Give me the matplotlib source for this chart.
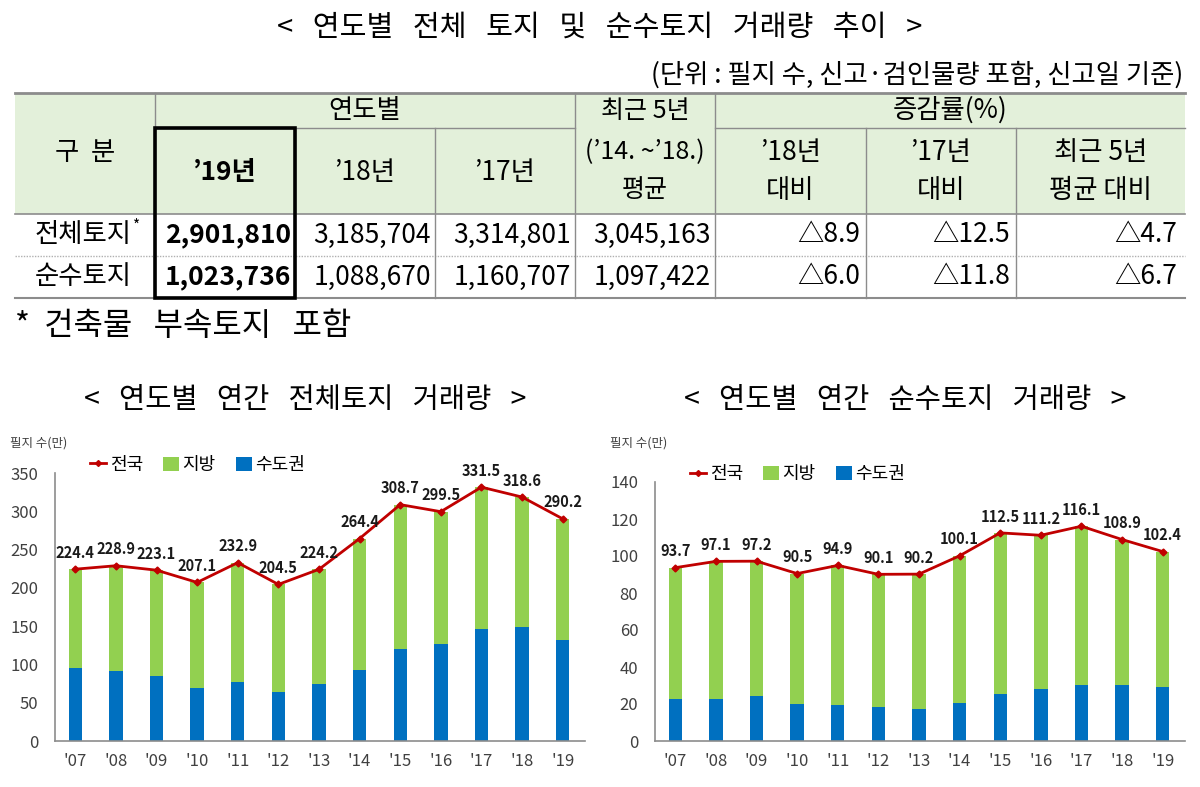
import matplotlib
matplotlib.use("Agg")
import matplotlib.pyplot as plt
from matplotlib.lines import Line2D
from matplotlib.patches import Patch, Rectangle

plt.rcParams['font.family'] = ['Noto Sans CJK KR', 'DejaVu Sans']

# ---------------- data ----------------
years = ["'07", "'08", "'09", "'10", "'11", "'12", "'13", "'14", "'15", "'16", "'17", "'18", "'19"]

all_total = [224.4, 228.9, 223.1, 207.1, 232.9, 204.5, 224.2, 264.4, 308.7, 299.5, 331.5, 318.6, 290.2]
all_metro = [95.2, 90.9, 85.2, 69.1, 76.5, 64.3, 74.3, 92.6, 120.4, 126.5, 146.0, 148.3, 132.2]
all_local = [129.2, 138.0, 137.9, 138.0, 156.4, 140.2, 149.9, 171.8, 188.3, 173.0, 185.5, 170.3, 158.0]

pure_total = [93.7, 97.1, 97.2, 90.5, 94.9, 90.1, 90.2, 100.1, 112.5, 111.2, 116.1, 108.9, 102.4]
pure_metro = [22.8, 22.8, 24.1, 20.1, 19.6, 18.3, 17.2, 20.5, 25.5, 28.2, 30.3, 30.3, 29.4]
pure_local = [70.9, 74.3, 73.1, 70.4, 75.3, 71.8, 73.0, 79.6, 87.0, 83.0, 85.8, 78.6, 73.0]

table_rows = ['전체토지', '순수토지']
table_y19 = [2901810, 1023736]
table_y18 = [3185704, 1088670]
table_y17 = [3314801, 1160707]
table_avg5 = [3045163, 1097422]
chg_vs18 = [-8.9, -6.0]
chg_vs17 = [-12.5, -11.8]
chg_vs5 = [-4.7, -6.7]

RED = '#C00000'
GREEN = '#92D050'
BLUE = '#0070C0'
HDR = '#E3F0DA'

W, H = 1200, 787
fig = plt.figure(figsize=(12, 7.87), dpi=100)
bg = fig.add_axes([0, 0, 1, 1])
bg.set_xlim(0, W)
bg.set_ylim(H, 0)
bg.axis('off')

# ---------------- titles ----------------
bg.text(600, 28, '<   연도별   전체   토지   및   순수토지   거래량   추이   >', ha='center', va='center', fontsize=21)
bg.text(1183, 75, '(단위 : 필지 수, 신고·검인물량 포함, 신고일 기준)', ha='right', va='center', fontsize=19)

# ---------------- table ----------------
L, R = 15, 1185
cols = [15, 155, 295, 435, 575, 715, 866, 1016, 1185]
y_top, y_mid, y_hdr, y_r1, y_bot = 93, 128, 214, 256, 298

bg.add_patch(Rectangle((L, y_top), R - L, y_hdr - y_top, facecolor=HDR, edgecolor='none', zorder=0))
line_c = '#8c8c8c'
bg.plot([L, R], [y_top, y_top], color=line_c, lw=2)
bg.plot([L, R], [y_hdr, y_hdr], color=line_c, lw=1.2)
bg.plot([L, R], [y_r1, y_r1], color='#b0b0b0', lw=1, ls=(0, (1, 1)))
bg.plot([L, R], [y_bot, y_bot], color=line_c, lw=1.5)
bg.plot([cols[1], cols[4]], [y_mid, y_mid], color=line_c, lw=1)
bg.plot([cols[5], R], [y_mid, y_mid], color=line_c, lw=1)
for x in [cols[1], cols[4], cols[5]]:
    bg.plot([x, x], [y_top, y_bot], color=line_c, lw=1)
for x in [cols[2], cols[3], cols[6], cols[7]]:
    bg.plot([x, x], [y_mid, y_bot], color=line_c, lw=1)
bg.add_patch(Rectangle((cols[1], y_mid), cols[2] - cols[1], y_bot - y_mid, facecolor='none',
                       edgecolor='black', lw=2.6, zorder=5))

fs = 19
def cx(i):
    return (cols[i] + cols[i + 1]) / 2

bg.text(cx(0), 153, '구  분', ha='center', va='center', fontsize=fs)
bg.text((cols[1] + cols[4]) / 2, 110, '연도별', ha='center', va='center', fontsize=fs)
bg.text(cx(1), 173, '’19년', ha='center', va='center', fontsize=fs, fontweight='bold')
bg.text(cx(2), 173, '’18년', ha='center', va='center', fontsize=fs)
bg.text(cx(3), 173, '’17년', ha='center', va='center', fontsize=fs)
for yy, t in zip([111, 152, 190], ['최근 5년', '(’14. ~’18.)', '평균']):
    bg.text(cx(4), yy, t, ha='center', va='center', fontsize=fs - 1)
bg.text((cols[5] + cols[8]) / 2, 110, '증감률(%)', ha='center', va='center', fontsize=fs)
for i, (a, b) in zip([5, 6, 7], [('’18년', '대비'), ('’17년', '대비'), ('최근 5년', '평균 대비')]):
    bg.text(cx(i), 153, a, ha='center', va='center', fontsize=fs)
    bg.text(cx(i), 191, b, ha='center', va='center', fontsize=fs)

row_y = [(y_hdr + y_r1) / 2, (y_r1 + y_bot) / 2]
def fmt(n):
    return f'{n:,}'
def fmt_chg(v):
    return ('△' if v < 0 else '') + f'{abs(v):.1f}'
for r in range(2):
    yy = row_y[r]
    bg.text(cx(0) - 2, yy, table_rows[r], ha='center', va='center', fontsize=fs)
    if r == 0:
        bg.text(cx(0) + 52, yy - 9, '*', ha='center', va='center', fontsize=11)
    bg.text(cols[2] - 4, yy, fmt(table_y19[r]), ha='right', va='center', fontsize=fs, fontweight='bold')
    bg.text(cols[3] - 4, yy, fmt(table_y18[r]), ha='right', va='center', fontsize=fs)
    bg.text(cols[4] - 4, yy, fmt(table_y17[r]), ha='right', va='center', fontsize=fs)
    bg.text(cols[5] - 4, yy, fmt(table_avg5[r]), ha='right', va='center', fontsize=fs)
    bg.text(cols[6] - 6, yy, fmt_chg(chg_vs18[r]), ha='right', va='center', fontsize=fs)
    bg.text(cols[7] - 6, yy, fmt_chg(chg_vs17[r]), ha='right', va='center', fontsize=fs)
    bg.text(cols[8] - 8, yy, fmt_chg(chg_vs5[r]), ha='right', va='center', fontsize=fs)

bg.text(15, 326, '*  건축물   부속토지   포함', ha='left', va='center', fontsize=23)

# ---------------- charts ----------------
def chart(rect, metro, local, total, ymax, step, title, title_x):
    ax = fig.add_axes(rect)
    x = list(range(len(years)))
    ax.bar(x, metro, width=0.33, color=BLUE, zorder=2)
    ax.bar(x, local, width=0.33, bottom=metro, color=GREEN, zorder=2)
    ax.plot(x, total, color=RED, lw=2, marker='D', ms=3.5, zorder=3)
    for xi, v in zip(x, total):
        ax.annotate(f'{v:.1f}', (xi, v), xytext=(0, 6), textcoords='offset points',
                    ha='center', va='bottom', fontsize=10.5, fontweight='bold', color='#1a1a1a')
    ax.set_xlim(-0.5, len(years) - 0.45)
    ax.set_ylim(0, ymax)
    ax.set_yticks(range(0, ymax + 1, step))
    ax.set_xticks(x)
    ax.set_xticklabels(years)
    for s in ['top', 'right']:
        ax.spines[s].set_visible(False)
    for s in ['left', 'bottom']:
        ax.spines[s].set_color('#8c8c8c')
        ax.spines[s].set_linewidth(1.2)
    ax.tick_params(axis='both', length=0, labelsize=12, colors='#404040', pad=9)
    ax.tick_params(axis='y', pad=12)
    handles = [Line2D([0], [0], color=RED, lw=2, marker='D', ms=3),
               Patch(facecolor=GREEN), Patch(facecolor=BLUE)]
    ax.legend(handles, ['전국', '지방', '수도권'], ncol=3, loc='center left',
              bbox_to_anchor=(0.035, 1.03), frameon=False, fontsize=13,
              handlelength=0.9, handleheight=0.8, handletextpad=0.2, columnspacing=1.1)
    bg.text(title_x, 400, title, ha='center', va='center', fontsize=20.5)
    return ax

left_rect = [55 / W, 1 - 741 / H, (585 - 55) / W, (741 - 473) / H]
right_rect = [655 / W, 1 - 741 / H, (1185 - 655) / W, (741 - 482) / H]
chart(left_rect, all_metro, all_local, all_total, 350, 50, '<   연도별   연간   전체토지   거래량   >', 305)
chart(right_rect, pure_metro, pure_local, pure_total, 140, 20, '<   연도별   연간   순수토지   거래량   >', 905)
bg.text(10, 443, '필지 수(만)', ha='left', va='center', fontsize=9, color='#404040')
bg.text(610, 443, '필지 수(만)', ha='left', va='center', fontsize=9, color='#404040')

fig.savefig('out.png', dpi=100)
